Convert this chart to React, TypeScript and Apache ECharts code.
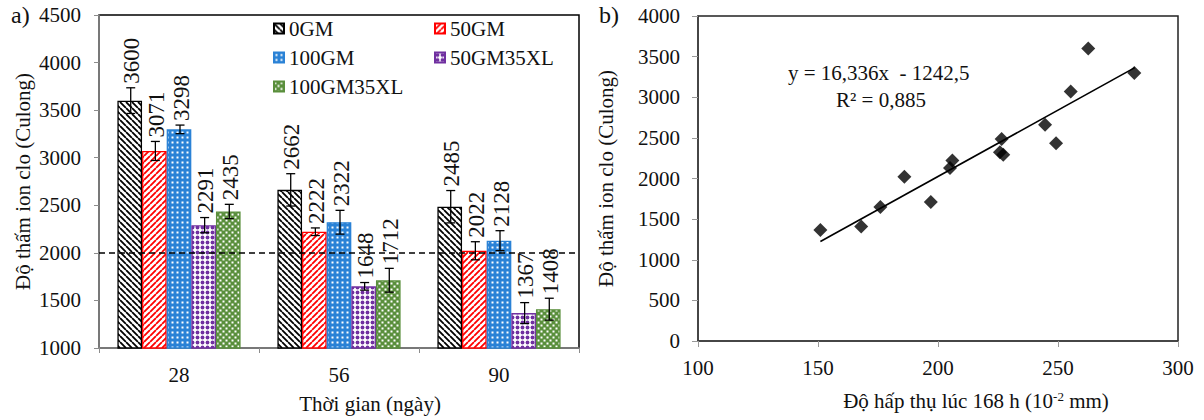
import React, { useEffect, useRef } from "react";
import * as echarts from "echarts";

// ---------- data ----------
const categories = ["28", "56", "90"];
const seriesNames = ["0GM", "50GM", "100GM", "50GM35XL", "100GM35XL"];
const values0GM = [3600, 2662, 2485];
const values50GM = [3071, 2222, 2022];
const values100GM = [3298, 2322, 2128];
const values50GM35XL = [2291, 1648, 1367];
const values100GM35XL = [2435, 1712, 1408];
const err0GM = [135, 170, 170];
const err50GM = [100, 40, 95];
const err100GM = [45, 125, 105];
const err50GM35XL = [80, 40, 110];
const err100GM35XL = [75, 125, 115];
const thresholdValue = 2000;
const leftYTicks = { min: 1000, max: 4500, interval: 500 };

const absorptionX = [151, 168, 176, 186, 197, 206, 205, 225.8, 227.2, 226.5, 244.6, 249.2, 255.3, 262.6, 281.8];
const chloridePassY = [1367, 1408, 1648, 2022, 1712, 2222, 2128, 2322, 2291, 2485, 2662, 2435, 3071, 3600, 3298];
const trendSlope = 16.336;
const trendIntercept = -1242.5;
const trendXRange = [151, 282];
const equationText = "y = 16,336x  - 1242,5";
const r2Text = "R² = 0,885";

const FONT = "'Liberation Serif', 'Times New Roman', serif";

const barValues = [values0GM, values50GM, values100GM, values50GM35XL, values100GM35XL];
const barErrors = [err0GM, err50GM, err100GM, err50GM35XL, err100GM35XL];
const borderColors = ["#000000", "#ff0000", "#2a82d6", "#7030a0", "#5a8f3c"];
const CAT_GAP = 0.23;

function makePattern(kind: number) {
  const c = document.createElement("canvas");
  let size = 6;
  if (kind === 2) size = 5;
  if (kind === 3) size = 5;
  c.width = size;
  c.height = size;
  const ctx = c.getContext("2d")!;
  if (kind === 0 || kind === 1) {
    ctx.fillStyle = "#ffffff";
    ctx.fillRect(0, 0, size, size);
    ctx.strokeStyle = kind === 0 ? "#000000" : "#ff0000";
    ctx.lineWidth = 1.8;
    ctx.beginPath();
    for (const k of [-size, 0, size]) {
      if (kind === 0) {
        ctx.moveTo(k, 0);
        ctx.lineTo(k + size, size);
      } else {
        ctx.moveTo(k + size, 0);
        ctx.lineTo(k, size);
      }
    }
    ctx.stroke();
  } else if (kind === 2) {
    ctx.fillStyle = "#2a82d6";
    ctx.fillRect(0, 0, size, size);
    ctx.fillStyle = "#ffffff";
    ctx.fillRect(1.5, 1.5, 2, 2);
  } else if (kind === 3) {
    ctx.fillStyle = "#ffffff";
    ctx.fillRect(0, 0, size, size);
    ctx.fillStyle = "#7030a0";
    ctx.beginPath();
    ctx.arc(2.5, 2.5, 1.9, 0, Math.PI * 2);
    ctx.fill();
  } else {
    ctx.fillStyle = "#5a8f3c";
    ctx.fillRect(0, 0, size, size);
    ctx.fillStyle = "#ffffff";
    ctx.fillRect(0.5, 0.5, 2, 2);
    ctx.fillRect(3.5, 3.5, 2, 2);
  }
  return { image: c.toDataURL(), repeat: "repeat", imageWidth: size, imageHeight: size };
}

const plainNumber = (v: number) => String(v);

export default function App() {
  const ref = useRef<HTMLDivElement>(null);
  useEffect(() => {
    document.body.style.margin = "0";
    if (!ref.current) return;
    const chart = echarts.init(ref.current, undefined, { renderer: "svg" });

    const errData: number[][] = [];
    barValues.forEach((vals, s) => {
      vals.forEach((v, ci) => errData.push([ci, s, v, barErrors[s][ci]]));
    });

    const textStyle = { fontFamily: FONT, fontSize: 21, color: "#111" };

    const barSeries = seriesNames.map((name, i) => {
      const s: any = {
        type: "bar",
        name,
        xAxisIndex: 0,
        yAxisIndex: 0,
        data: barValues[i],
        barGap: "0%",
        barCategoryGap: `${CAT_GAP * 100}%`,
        itemStyle: { color: makePattern(i), borderColor: borderColors[i], borderWidth: 1.3 },
      };
      if (i === 0) {
        s.markLine = {
          silent: true,
          symbol: "none",
          label: { show: false },
          lineStyle: { color: "#000", type: [6, 4], width: 1.5 },
          data: [{ yAxis: thresholdValue }],
        };
      }
      return s;
    });

    const legendBase = {
      orient: "vertical",
      top: 18,
      padding: 0,
      itemGap: 8,
      itemWidth: 10,
      itemHeight: 10,
      icon: "rect",
      selectedMode: false,
      textStyle,
    };

    const option: any = {
      animation: false,
      backgroundColor: "#fff",
      textStyle: { fontFamily: FONT },
      legend: [
        { ...legendBase, data: [seriesNames[0], seriesNames[2], seriesNames[4]], left: 273 },
        { ...legendBase, data: [seriesNames[1], seriesNames[3]], left: 434 },
      ],
      grid: [
        { left: 99, top: 15, width: 480, height: 333, show: true, borderColor: "#000", borderWidth: 1.5 },
        { left: 698, top: 16, width: 480, height: 325, show: true, borderColor: "#222", borderWidth: 1.5 },
      ],
      xAxis: [
        {
          type: "category",
          gridIndex: 0,
          data: categories,
          axisLine: { lineStyle: { color: "#8c8c8c", width: 1.5 } },
          axisTick: { show: true, length: 5, lineStyle: { color: "#8c8c8c" } },
          axisLabel: { ...textStyle, margin: 16 },
          name: "Thời gian (ngày)",
          nameLocation: "middle",
          nameGap: 45,
          nameTextStyle: { ...textStyle, padding: [0, 0, 0, 62] },
        },
        {
          type: "value",
          gridIndex: 1,
          min: 100,
          max: 300,
          interval: 50,
          splitLine: { show: false },
          axisLine: { lineStyle: { color: "#404040", width: 1.5 } },
          axisTick: { show: true, length: 6, lineStyle: { color: "#999" } },
          axisLabel: { ...textStyle, margin: 16, formatter: plainNumber },
          name: "{a|Độ hấp thụ lúc 168 h (10}{s|-2}{a| mm)}",
          nameLocation: "middle",
          nameGap: 49,
          nameTextStyle: {
            ...textStyle,
            padding: [0, 0, 0, 76],
            rich: {
              a: { fontFamily: FONT, fontSize: 21, color: "#111" },
              s: { fontFamily: FONT, fontSize: 13, color: "#111", verticalAlign: "top" },
            },
          },
        },
      ],
      yAxis: [
        {
          type: "value",
          gridIndex: 0,
          min: leftYTicks.min,
          max: leftYTicks.max,
          interval: leftYTicks.interval,
          splitLine: { show: false },
          axisLine: { show: true, lineStyle: { color: "#8c8c8c", width: 1.5 } },
          axisTick: { show: true, length: 5, lineStyle: { color: "#8c8c8c" } },
          axisLabel: { ...textStyle, margin: 18, formatter: plainNumber },
          name: "Độ thấm ion clo (Culong)",
          nameLocation: "middle",
          nameGap: 66,
          nameTextStyle: textStyle,
        },
        {
          type: "value",
          gridIndex: 1,
          min: 0,
          max: 4000,
          interval: 500,
          splitLine: { show: false },
          axisLine: { show: true, lineStyle: { color: "#404040", width: 1.5 } },
          axisTick: { show: true, length: 6, lineStyle: { color: "#999" } },
          axisLabel: { ...textStyle, margin: 18, formatter: plainNumber },
          name: "Độ thấm ion clo (Culong)",
          nameLocation: "middle",
          nameGap: 82,
          nameTextStyle: textStyle,
        },
      ],
      graphic: [
        { type: "text", left: 11, top: 3, style: { text: "a)", font: `24px ${FONT}`, fill: "#111" } },
        { type: "text", left: 599, top: 3, style: { text: "b)", font: `24px ${FONT}`, fill: "#111" } },
        { type: "text", left: 788, top: 62, style: { text: equationText, font: `21px ${FONT}`, fill: "#111" } },
        { type: "text", left: 836, top: 89, style: { text: r2Text, font: `21px ${FONT}`, fill: "#111" } },
      ],
      series: [
        ...barSeries,
        {
          type: "custom",
          xAxisIndex: 0,
          yAxisIndex: 0,
          z: 10,
          silent: true,
          data: errData,
          encode: { x: 0, y: 2 },
          renderItem: (params: any, api: any) => {
            const c = api.value(0);
            const s = api.value(1);
            const v = api.value(2);
            const e = api.value(3);
            const band = api.size([1, 0])[0];
            const barW = (band * (1 - CAT_GAP)) / 5;
            const x = api.coord([c, v])[0] + (s - 2) * barW + 1;
            const yTop = api.coord([c, v + e])[1];
            const yBot = api.coord([c, v - e])[1];
            const cap = 4.5;
            const st = { stroke: "#000", lineWidth: 1.3 };
            return {
              type: "group",
              children: [
                { type: "line", shape: { x1: x, y1: yTop, x2: x, y2: yBot }, style: st },
                { type: "line", shape: { x1: x - cap, y1: yTop, x2: x + cap, y2: yTop }, style: st },
                { type: "line", shape: { x1: x - cap, y1: yBot, x2: x + cap, y2: yBot }, style: st },
                {
                  type: "text",
                  x: x + 1,
                  y: yTop - 4,
                  rotation: Math.PI / 2,
                  style: {
                    text: String(v),
                    fill: "#111",
                    font: `23px ${FONT}`,
                    align: "left",
                    verticalAlign: "middle",
                  },
                },
              ],
            };
          },
        },
        {
          type: "scatter",
          xAxisIndex: 1,
          yAxisIndex: 1,
          symbol: "diamond",
          symbolSize: 14,
          itemStyle: { color: "#000" },
          data: absorptionX.map((x, i) => [x, chloridePassY[i]]),
          z: 3,
        },
        {
          type: "line",
          xAxisIndex: 1,
          yAxisIndex: 1,
          symbol: "none",
          silent: true,
          lineStyle: { color: "#000", width: 1.6 },
          data: trendXRange.map((x) => [x, trendSlope * x + trendIntercept]),
          z: 2,
        },
      ],
    };
    chart.setOption(option);
    return () => chart.dispose();
  }, []);
  return <div ref={ref} style={{ width: 1204, height: 420 }} />;
}
